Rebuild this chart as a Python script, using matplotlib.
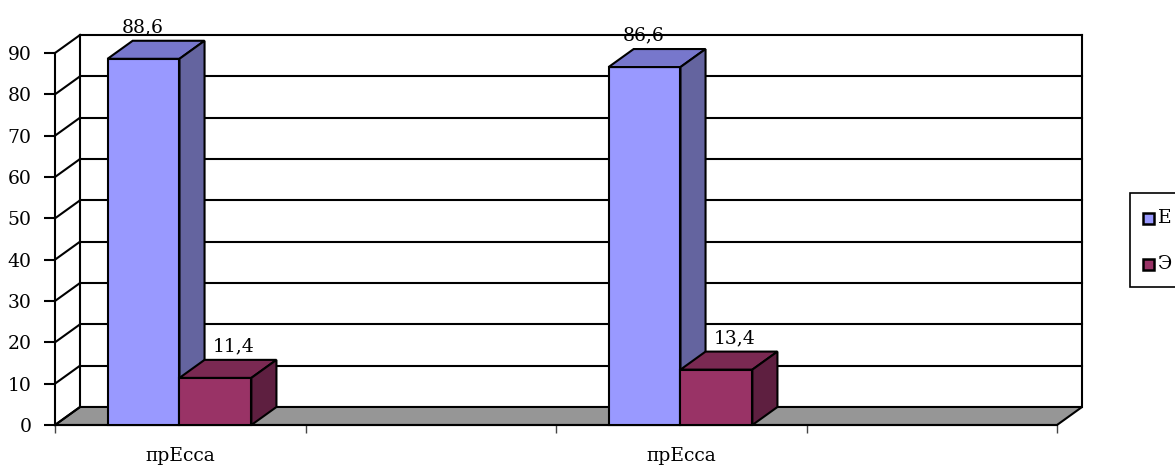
import matplotlib
matplotlib.use("Agg")
import matplotlib.pyplot as plt
from matplotlib.patches import Polygon, Rectangle

# data
categories = ["прЕсса", "прЕсса"]
series_names = ["Е", "Э"]
values_e = [88.6, 86.6]
values_ae = [11.4, 13.4]
value_labels_e = ["88,6", "86,6"]
value_labels_ae = ["11,4", "13,4"]
y_ticks = [0, 10, 20, 30, 40, 50, 60, 70, 80, 90]

# layout (Excel 3D look)
n_slots = 4
group_slots = [0, 2]
gap = 0.21
bw = 0.287
DX, DY = 0.1, 4.36
font = "DejaVu Serif"
fs = 13.5

front_cols = ["#9999ff", "#993366"]
top_cols = ["#7777cc", "#7a2952"]
side_cols = ["#64649f", "#5e1f40"]
label_dx = [-0.005, 0.072]

W, H = 1175, 465
fig = plt.figure(figsize=(W / 100, H / 100), dpi=100)
ax = fig.add_axes([55 / W, 40 / H, 1002 / W, 372 / H])
ax.set_xlim(0, n_slots)
ax.set_ylim(0, 90)

lw = 1.5
# floor
ax.add_patch(Polygon([(0, 0), (n_slots, 0), (n_slots + DX, DY), (DX, DY)],
                     closed=True, facecolor="#969696", edgecolor="black",
                     lw=lw, zorder=1, clip_on=False))
# back wall + side wall grid
for t in y_ticks:
    if t > 0:
        ax.plot([DX, n_slots + DX], [t + DY, t + DY], color="black", lw=lw,
                zorder=1, clip_on=False, solid_capstyle="projecting")
    ax.plot([0, DX], [t, t + DY], color="black", lw=lw, zorder=1, clip_on=False)
ax.plot([DX, DX], [DY, 90 + DY], color="black", lw=lw, zorder=1, clip_on=False)
ax.plot([n_slots + DX, n_slots + DX], [DY, 90 + DY], color="black", lw=lw,
        zorder=1, clip_on=False)

# bars
all_vals = [values_e, values_ae]
all_labels = [value_labels_e, value_labels_ae]
for g, slot in enumerate(group_slots):
    for s in range(2):
        v = all_vals[s][g]
        x0 = slot + gap + s * bw
        x1 = x0 + bw
        z = 3 + s
        ax.add_patch(Rectangle((x0, 0), bw, v, facecolor=front_cols[s],
                               edgecolor="black", lw=lw, zorder=z, clip_on=False))
        ax.add_patch(Polygon([(x0, v), (x1, v), (x1 + DX, v + DY), (x0 + DX, v + DY)],
                             closed=True, facecolor=top_cols[s], edgecolor="black",
                             lw=lw, zorder=z, clip_on=False))
        ax.add_patch(Polygon([(x1, 0), (x1 + DX, DY), (x1 + DX, v + DY), (x1, v)],
                             closed=True, facecolor=side_cols[s], edgecolor="black",
                             lw=lw, zorder=z, clip_on=False))
        ax.text(x0 + bw / 2 + label_dx[s], v + DY + 2, all_labels[s][g],
                ha="center", va="baseline", fontsize=fs, family=font, zorder=6)

# axes
for sp in ["top", "right"]:
    ax.spines[sp].set_visible(False)
ax.spines["left"].set_linewidth(lw)
ax.spines["bottom"].set_linewidth(lw)
ax.spines["left"].set_zorder(2)
ax.set_yticks(y_ticks)
ax.set_yticklabels([str(t) for t in y_ticks], family=font, fontsize=fs)
ax.tick_params(axis="y", length=8, width=lw, pad=9)
ax.set_xticks([s + 0.5 for s in group_slots])
ax.set_xticklabels(categories, family=font, fontsize=fs)
ax.set_xticks(range(n_slots + 1), minor=True)
ax.tick_params(axis="x", which="major", length=0, pad=16)
ax.tick_params(axis="x", which="minor", length=6, width=1, color="#444444")
ax.set_facecolor("none")

# legend, running off the right edge
def fx(px):
    return px / W

def fy(py):
    return 1 - py / H

fig.patches.append(Rectangle((fx(1130), fy(287)), fx(80), 94 / H, transform=fig.transFigure,
                             facecolor="white", edgecolor="black", lw=1.2, figure=fig))
for i, (name, py) in enumerate(zip(series_names, [218, 264])):
    fig.patches.append(Rectangle((fx(1143), fy(py + 6)), fx(11), 11 / H,
                                 transform=fig.transFigure, facecolor=front_cols[i],
                                 edgecolor="black", lw=1.8, figure=fig))
    fig.text(fx(1158), fy(py), name, ha="left", va="center", fontsize=fs, family=font)

fig.savefig("out.png", dpi=100)
